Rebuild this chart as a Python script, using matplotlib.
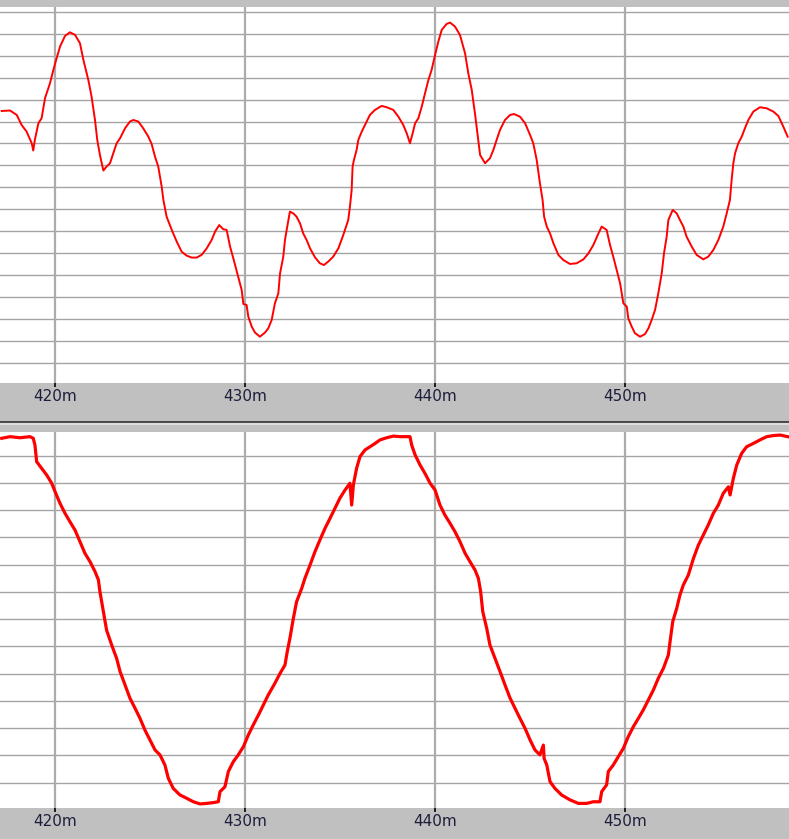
#Two stacked trace panels (signal vs. depth) drawn in a plain logger style
import numpy as np
import matplotlib
matplotlib.use("Agg")
import matplotlib.pyplot as plt
from matplotlib.lines import Line2D

#Upper trace: depth (m) and value (grid divisions)
top_depth = [417.19, 417.63, 417.98, 418.24, 418.50, 418.77, 418.85, 418.94, 419.12, 419.29,
             419.47, 419.73, 419.91, 420.08, 420.26, 420.52, 420.78, 421.05, 421.31, 421.49,
             421.75, 421.92, 422.10, 422.22, 422.36, 422.54, 422.71, 422.89, 423.06, 423.24,
             423.42, 423.68, 423.94, 424.12, 424.38, 424.64, 424.91, 425.08, 425.26, 425.43,
             425.61, 425.70, 425.87, 426.14, 426.40, 426.66, 426.92, 427.19, 427.45, 427.71,
             427.98, 428.24, 428.42, 428.64, 428.85, 429.03, 429.21, 429.38, 429.64, 429.82,
             429.91, 430.08, 430.17, 430.35, 430.52, 430.78, 431.05, 431.22, 431.40, 431.57,
             431.75, 431.84, 432.01, 432.10, 432.22, 432.36, 432.54, 432.71, 432.89, 433.06,
             433.24, 433.42, 433.68, 433.94, 434.15, 434.38, 434.64, 434.91, 435.17, 435.43,
             435.52, 435.61, 435.66, 435.73, 435.87, 435.96, 436.14, 436.31, 436.57, 436.84,
             437.19, 437.45, 437.80, 438.07, 438.33, 438.51, 438.68, 438.82, 438.95, 439.12,
             439.30, 439.47, 439.65, 439.82, 440.00, 440.17, 440.35, 440.61, 440.79, 441.05,
             441.31, 441.58, 441.75, 441.93, 442.10, 442.23, 442.37, 442.63, 442.89, 443.07,
             443.24, 443.42, 443.68, 443.95, 444.16, 444.47, 444.74, 445.00, 445.17, 445.35,
             445.52, 445.66, 445.74, 445.88, 446.05, 446.23, 446.49, 446.75, 447.10, 447.45,
             447.81, 448.07, 448.33, 448.60, 448.77, 449.03, 449.21, 449.38, 449.56, 449.74,
             449.91, 450.09, 450.17, 450.35, 450.52, 450.79, 451.05, 451.23, 451.40, 451.58,
             451.75, 451.93, 452.05, 452.19, 452.28, 452.51, 452.72, 452.89, 453.07, 453.24,
             453.51, 453.77, 454.12, 454.38, 454.65, 454.91, 455.17, 455.35, 455.52, 455.61,
             455.70, 455.79, 455.96, 456.14, 456.31, 456.49, 456.75, 457.10, 457.46, 457.81,
             458.07, 458.33, 458.56]
top_value = [11.48, 11.50, 11.30, 10.84, 10.54, 10.01, 9.68, 10.19, 10.92, 11.15,
             12.06, 12.74, 13.35, 13.88, 14.41, 14.89, 15.06, 14.94, 14.56, 13.80,
             12.89, 12.13, 11.07, 10.16, 9.48, 8.77, 8.95, 9.10, 9.55, 10.01,
             10.24, 10.69, 11.00, 11.07, 11.00, 10.69, 10.31, 9.98, 9.40, 8.95,
             8.04, 7.43, 6.67, 6.07, 5.54, 5.08, 4.90, 4.81, 4.81, 4.93,
             5.23, 5.61, 5.99, 6.29, 6.10, 6.07, 5.31, 4.78, 3.94, 3.34,
             2.70, 2.65, 2.12, 1.67, 1.40, 1.21, 1.40, 1.59, 1.97, 2.73,
             3.18, 4.09, 4.85, 5.61, 6.22, 6.90, 6.82, 6.67, 6.37, 5.91,
             5.61, 5.23, 4.82, 4.55, 4.47, 4.63, 4.85, 5.23, 5.84, 6.52,
             7.13, 7.89, 8.95, 9.25, 9.71, 10.16, 10.54, 10.84, 11.30, 11.53,
             11.71, 11.65, 11.53, 11.22, 10.84, 10.46, 10.01, 10.46, 10.92, 11.15,
             11.68, 12.28, 12.89, 13.35, 14.03, 14.63, 15.17, 15.44, 15.50, 15.32,
             14.94, 14.10, 13.19, 12.44, 11.37, 10.46, 9.48, 9.10, 9.33, 9.71,
             10.16, 10.62, 11.07, 11.30, 11.34, 11.22, 10.92, 10.39, 10.01, 9.25,
             8.19, 7.43, 6.67, 6.22, 5.91, 5.46, 4.93, 4.70, 4.52, 4.55,
             4.73, 5.00, 5.38, 5.91, 6.22, 6.07, 5.38, 4.85, 4.25, 3.64,
             2.73, 2.58, 2.05, 1.67, 1.37, 1.21, 1.33, 1.59, 1.97, 2.43,
             3.18, 4.09, 5.00, 5.76, 6.52, 6.98, 6.82, 6.52, 6.22, 5.76,
             5.31, 4.93, 4.73, 4.85, 5.16, 5.61, 6.22, 6.82, 7.43, 8.34,
             9.10, 9.55, 10.01, 10.31, 10.69, 11.07, 11.45, 11.65, 11.60, 11.45,
             11.25, 10.77, 10.31]

#Lower trace: depth (m) and value (grid divisions)
bot_depth = [417.19, 417.63, 418.15, 418.68, 418.85, 418.94, 419.03, 419.29, 419.56, 419.82,
             420.00, 420.26, 420.52, 420.78, 421.05, 421.31, 421.57, 421.84, 422.10, 422.28,
             422.36, 422.54, 422.71, 422.98, 423.24, 423.42, 423.68, 423.94, 424.21, 424.47,
             424.73, 424.99, 425.26, 425.52, 425.78, 425.96, 426.22, 426.57, 426.92, 427.28,
             427.63, 427.98, 428.33, 428.59, 428.68, 428.94, 429.12, 429.38, 429.64, 429.91,
             430.17, 430.43, 430.70, 430.96, 431.22, 431.57, 431.84, 432.10, 432.22, 432.36,
             432.54, 432.71, 432.98, 433.15, 433.42, 433.68, 433.94, 434.21, 434.47, 434.73,
             434.99, 435.26, 435.52, 435.61, 435.70, 435.87, 436.05, 436.31, 436.57, 436.84,
             437.10, 437.45, 437.80, 438.12, 438.16, 438.68, 438.77, 438.95, 439.21, 439.47,
             439.74, 440.00, 440.26, 440.52, 440.79, 441.05, 441.31, 441.58, 441.84, 442.10,
             442.28, 442.40, 442.51, 442.72, 442.89, 443.16, 443.42, 443.68, 443.95, 444.21,
             444.47, 444.74, 445.00, 445.26, 445.52, 445.70, 445.74, 445.88, 446.05, 446.31,
             446.66, 447.10, 447.54, 447.98, 448.33, 448.68, 448.77, 449.03, 449.12, 449.38,
             449.65, 449.91, 450.17, 450.44, 450.70, 450.96, 451.23, 451.49, 451.75, 452.02,
             452.28, 452.37, 452.51, 452.72, 452.89, 453.07, 453.33, 453.60, 453.86, 454.12,
             454.38, 454.65, 454.91, 455.17, 455.44, 455.53, 455.70, 455.88, 456.14, 456.40,
             456.75, 457.10, 457.46, 457.81, 458.16, 458.56]
bot_value = [12.64, 12.70, 12.66, 12.70, 12.64, 12.39, 11.78, 11.54, 11.29, 10.99,
             10.68, 10.25, 9.89, 9.58, 9.27, 8.85, 8.42, 8.11, 7.75, 7.44,
             7.01, 6.28, 5.60, 5.05, 4.56, 4.08, 3.59, 3.10, 2.73, 2.36,
             1.93, 1.57, 1.20, 1.02, 0.65, 0.16, -0.21, -0.45, -0.57, -0.70,
             -0.78, -0.76, -0.73, -0.70, -0.33, -0.15, 0.41, 0.77, 1.02, 1.32,
             1.75, 2.12, 2.48, 2.85, 3.22, 3.65, 4.01, 4.32, 4.81, 5.30,
             6.03, 6.64, 7.13, 7.50, 7.99, 8.48, 8.91, 9.34, 9.70, 10.07,
             10.44, 10.74, 10.99, 10.19, 10.93, 11.54, 11.97, 12.21, 12.33, 12.45,
             12.58, 12.66, 12.72, 12.70, 12.70, 12.70, 12.39, 12.03, 11.66, 11.35,
             10.99, 10.74, 10.19, 9.82, 9.52, 9.21, 8.85, 8.42, 8.11, 7.81,
             7.50, 7.01, 6.28, 5.66, 5.05, 4.56, 4.08, 3.59, 3.10, 2.73,
             2.36, 1.99, 1.57, 1.20, 1.02, 1.38, 0.89, 0.65, 0.04, -0.21,
             -0.45, -0.63, -0.76, -0.76, -0.70, -0.70, -0.33, -0.08, 0.41, 0.65,
             0.96, 1.26, 1.69, 2.06, 2.36, 2.67, 3.04, 3.40, 3.83, 4.20,
             4.69, 5.18, 5.91, 6.40, 6.89, 7.26, 7.62, 8.23, 8.72, 9.09,
             9.46, 9.89, 10.19, 10.62, 10.86, 10.56, 11.17, 11.66, 12.09, 12.33,
             12.45, 12.58, 12.70, 12.74, 12.76, 12.70]

depth_ticks = [420, 430, 440, 450]
depth_labels = ["420m", "430m", "440m", "450m"]

W, H = 789, 839
fig = plt.figure(figsize=(W/100, H/100), dpi=100, facecolor="#c0c0c0")

#Axes placed in pixel rows (top, bottom)
def make_axes(top_px, bot_px, ylim, nlines):
    ax = fig.add_axes([0, 1 - bot_px/H, 1, (bot_px - top_px)/H])
    ax.set_facecolor("white")
    ax.set_xlim(417.1, 458.63)
    ax.set_ylim(*ylim)
    for s in ax.spines.values():
        s.set_visible(False)
    for k in range(nlines + 1):
        ax.axhline(k, color="#a4a4a4", lw=1.0, zorder=1)
    for d in depth_ticks:
        ax.axvline(d, color="#acacac", lw=1.6, zorder=1)
    ax.set_yticks([])
    ax.set_xticks(depth_ticks)
    ax.set_xticklabels(depth_labels)
    ax.tick_params(axis="x", direction="out", length=3, width=1.2, color="black",
                   pad=1, labelsize=11, labelcolor="#1e1e3c")
    return ax

ax1 = make_axes(7, 383, (-0.896, 16.21), 16)
ax1.plot(top_depth, top_value, color="#ff0000", lw=1.4, zorder=3)

ax2 = make_axes(432.3, 808.3, (-0.94, 12.86), 12)
ax2.plot(bot_depth, bot_value, color="#ff0000", lw=2.3, zorder=3)

#Separator between the two panels
fig.add_artist(Line2D([0, 1], [1 - 422/H, 1 - 422/H], color="#303030", lw=1.2))
fig.add_artist(Line2D([0, 1], [1 - 424/H, 1 - 424/H], color="#dcdcdc", lw=1.5))

fig.savefig("out.png", dpi=100, facecolor=fig.get_facecolor())
